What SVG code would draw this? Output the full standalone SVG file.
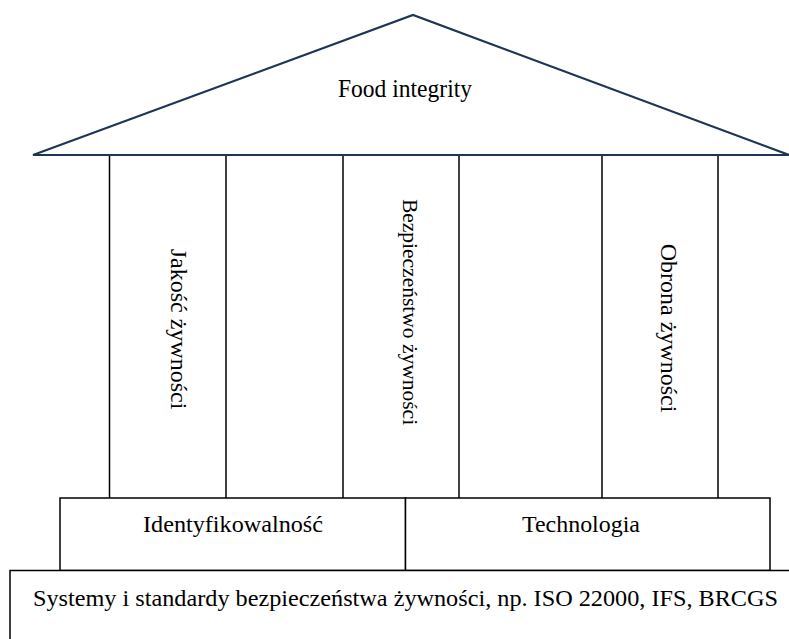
<svg xmlns="http://www.w3.org/2000/svg" width="789" height="639" viewBox="0 0 789 639">
  <style>
    .roof { fill: #ffffff; stroke: #1f3557; stroke-width: 2.2; stroke-linejoin: miter; }
    .col { stroke: #000000; stroke-width: 1.5; fill: none; }
    .box { fill: #ffffff; stroke: #000000; stroke-width: 1.5; }
  </style>
  <rect x="0" y="0" width="789" height="639" fill="#ffffff"/>

  <!-- roof -->
  <g id="roof">
    <polygon class="roof" points="33,155 413,15 789,155"/>
    <text x="405" y="97" font-family="Liberation Serif" font-size="25" text-anchor="middle" textLength="134" lengthAdjust="spacingAndGlyphs">Food integrity</text>
  </g>

  <!-- pillars -->
  <g id="pillars">
    <line class="col" x1="109.5" y1="156" x2="109.5" y2="498"/>
    <line class="col" x1="226" y1="156" x2="226" y2="498"/>
    <line class="col" x1="343" y1="156" x2="343" y2="498"/>
    <line class="col" x1="459" y1="156" x2="459" y2="498"/>
    <line class="col" x1="602" y1="156" x2="602" y2="498"/>
    <line class="col" x1="718" y1="156" x2="718" y2="498"/>
  </g>
  <g id="pillar-quality">
    <text transform="translate(171,329) rotate(90)" font-family="Liberation Serif" font-size="24" text-anchor="middle">Jakość żywności</text>
  </g>
  <g id="pillar-safety">
    <text transform="translate(403,312) rotate(90)" font-family="Liberation Serif" font-size="21.5" text-anchor="middle">Bezpieczeństwo żywności</text>
  </g>
  <g id="pillar-defence">
    <text transform="translate(661,328) rotate(90)" font-family="Liberation Serif" font-size="24" text-anchor="middle">Obrona żywności</text>
  </g>

  <!-- middle tier -->
  <g id="traceability">
    <rect class="box" x="60" y="498" width="345.5" height="72.5"/>
    <text x="233" y="532" font-family="Liberation Serif" font-size="23" text-anchor="middle" textLength="180" lengthAdjust="spacingAndGlyphs">Identyfikowalność</text>
  </g>
  <g id="technology">
    <rect class="box" x="405.5" y="498" width="364.5" height="72.5"/>
    <text x="581" y="532" font-family="Liberation Serif" font-size="23" text-anchor="middle" textLength="118" lengthAdjust="spacingAndGlyphs">Technologia</text>
  </g>

  <!-- foundation -->
  <g id="foundation">
    <rect class="box" x="10" y="570.5" width="790" height="80"/>
    <text x="33" y="606" font-family="Liberation Serif" font-size="23" textLength="745" lengthAdjust="spacingAndGlyphs">Systemy i standardy bezpieczeństwa żywności, np. ISO 22000, IFS, BRCGS</text>
  </g>
</svg>
